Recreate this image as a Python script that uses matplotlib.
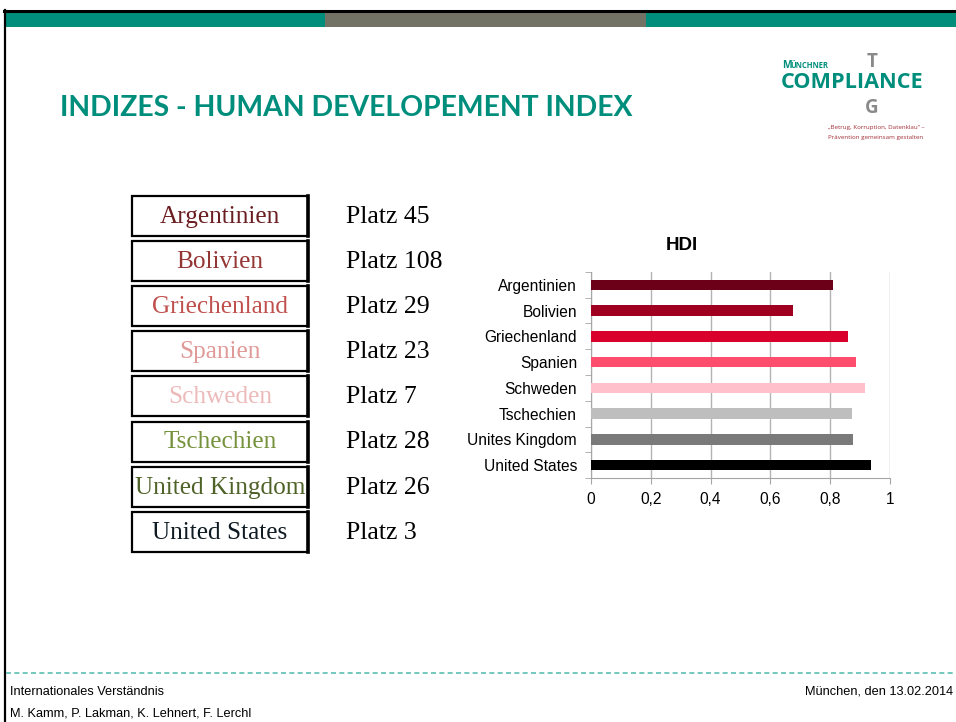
import matplotlib
matplotlib.use('Agg')
import matplotlib.pyplot as plt
from matplotlib.patches import Rectangle

# data
countries = ['Argentinien', 'Bolivien', 'Griechenland', 'Spanien',
             'Schweden', 'Tschechien', 'United Kingdom', 'United States']
ranks = [45, 108, 29, 23, 7, 28, 26, 3]
name_colors = ['#6B1E22', '#943634', '#C0504D', '#E09A98',
               '#EDBABA', '#76923C', '#4F6228', '#0F1B22']

hdi_labels = ['Argentinien', 'Bolivien', 'Griechenland', 'Spanien',
              'Schweden', 'Tschechien', 'Unites Kingdom', 'United States']
hdi_values = [0.811, 0.675, 0.860, 0.885, 0.917, 0.873, 0.875, 0.938]
bar_colors = ['#6B0018', '#A00020', '#D9002B', '#FF4D6D',
              '#FFC0CC', '#BEBEBE', '#7A7A7A', '#000000']
xticks = [0, 0.2, 0.4, 0.6, 0.8, 1]
xtick_labels = ['0', '0,2', '0,4', '0,6', '0,8', '1']

W, H = 956, 722
teal = '#008E7C'
fig = plt.figure(figsize=(W / 100, H / 100), dpi=100)

# slide layer in pixel coordinates
bg = fig.add_axes([0, 0, 1, 1])
bg.set_xlim(0, W)
bg.set_ylim(H, 0)
bg.axis('off')

# frame and top bar
bg.add_patch(Rectangle((6, 12), 319, 15, color=teal, lw=0))
bg.add_patch(Rectangle((325, 12), 321, 15, color='#737365', lw=0))
bg.add_patch(Rectangle((646, 12), 310, 15, color=teal, lw=0))
bg.plot([4, W], [10.5, 10.5], color='black', lw=2.2)
bg.plot([5, 5], [10, H], color='black', lw=1.6)

# title
bg.text(60, 108, 'INDIZES - HUMAN DEVELOPEMENT INDEX', color=teal,
        fontsize=20.4, fontweight='bold', family=['Lato', 'DejaVu Sans'],
        va='center', ha='left')

# logo
bg.text(782, 68, 'M', color=teal, fontsize=7.5, fontweight='bold',
        family=['Open Sans'], va='baseline')
bg.text(790, 68, 'ÜNCHNER', color=teal, fontsize=5.5, fontweight='bold',
        family=['Open Sans'], va='baseline')
bg.text(852, 88, 'COMPLIANCE', color=teal, fontsize=15.6, fontweight='bold',
        family=['Open Sans'], ha='center', va='baseline')
bg.text(872, 67, 'T', color='#8A8A8A', fontsize=13.5, fontweight='bold',
        family=['Open Sans'], ha='center', va='baseline')
bg.text(872, 113, 'G', color='#8A8A8A', fontsize=13.5, fontweight='bold',
        family=['Open Sans'], ha='center', va='baseline')
bg.text(876, 128, '„Betrug, Korruption, Datenklau“ –', color='#A0303A',
        fontsize=4.5, family=['Open Sans'], ha='center', va='center')
bg.text(876, 138, 'Prävention gemeinsam gestalten', color='#A0303A',
        fontsize=4.5, family=['Open Sans'], ha='center', va='center')

# country boxes with ranks
for i, (name, rank, col) in enumerate(zip(countries, ranks, name_colors)):
    top = 196 + i * 45.1
    bg.add_patch(Rectangle((132, top), 176, 40, fill=False,
                           edgecolor='black', lw=1.6))
    bg.plot([308, 308], [top, top + 40], color='black', lw=2.6)
    bg.text(220, top + 21, name, color=col, fontsize=18.2,
            family=['Liberation Serif'], ha='center', va='center')
    bg.text(346, top + 21, f'Platz {rank}', color='black', fontsize=18.5,
            family=['Liberation Serif'], ha='left', va='center')

# footer
bg.plot([6, W], [672.5, 672.5], color='#5BBFB5', lw=1.2,
        linestyle=(0, (3, 2)))
foot = ['Liberation Sans Narrow', 'Liberation Sans']
bg.text(10, 692, 'Internationales Verständnis', fontsize=9.2,
        family=foot, va='center')
bg.text(10, 713, 'M. Kamm, P. Lakman, K. Lehnert, F. Lerchl', fontsize=9.2,
        family=foot, va='center')
bg.text(953, 692, 'München, den 13.02.2014', fontsize=9.2,
        family=foot, va='center', ha='right')

# HDI bar chart
ax = fig.add_axes([591 / W, (H - 478) / H, 299 / W, 206 / H])
pos = list(range(len(hdi_values)))
ax.barh(pos, hdi_values, height=0.4, color=bar_colors, zorder=3)
ax.set_ylim(len(hdi_values) - 0.5, -0.5)
ax.set_xlim(0, 1)
ax.set_yticks(pos)
ax.set_yticklabels(hdi_labels, fontsize=11.2, family=['Liberation Sans'])
ax.set_yticks([p - 0.5 for p in pos] + [len(pos) - 0.5], minor=True)
ax.set_xticks(xticks)
ax.set_xticklabels(xtick_labels, fontsize=11.2, family=['Liberation Sans'])
ax.tick_params(axis='y', which='major', length=0, pad=10)
ax.tick_params(axis='y', which='minor', length=4, color='#A6A6A6')
ax.tick_params(axis='x', length=4, color='#A6A6A6', pad=6)
ax.xaxis.grid(True, color='#B3B3B3', lw=1)
ax.set_axisbelow(True)
for s in ['top', 'right']:
    ax.spines[s].set_visible(False)
for s in ['left', 'bottom']:
    ax.spines[s].set_color('#A6A6A6')
fig.text(682 / W, 1 - 245 / H, 'HDI', fontsize=13.5, fontweight='bold',
         family=['Liberation Sans'], ha='center', va='center')

fig.savefig('out.png', dpi=100)
